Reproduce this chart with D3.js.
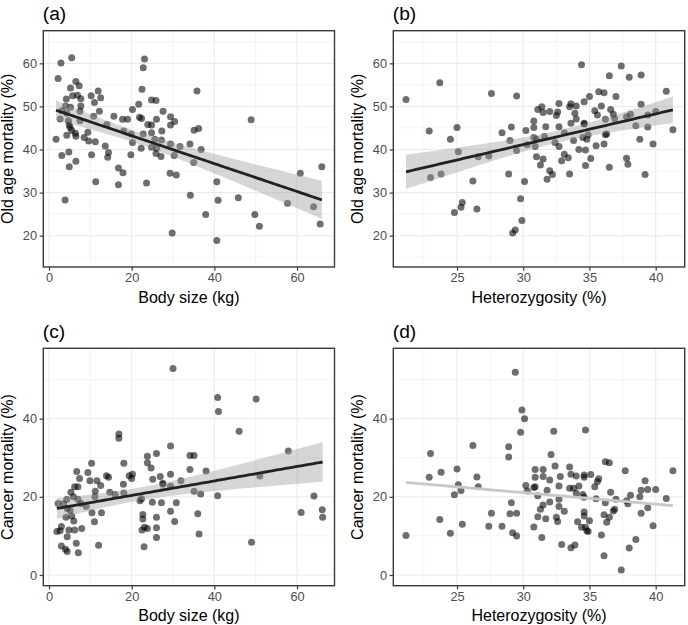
<!DOCTYPE html>
<html><head><meta charset="utf-8">
<script src="https://cdn.jsdelivr.net/npm/d3@7"></script>
<style>body{margin:0;background:#fff} svg{display:block} text{font-family:"Liberation Sans",Arial,Helvetica,sans-serif}</style>
</head><body><svg id="c" width="688" height="625"></svg>
<script>
// ---- data ----
const bodySizeA = [5.5,23.1,22.8,2.9,2.2,6.5,7.3,5.2,11.9,35.8,22.5,5.7,10.2,6.9,12.5,7.7,4.2,24.8,25.9,11.0,21.7,4.0,5.2,7.7,20.2,12.2,27.6,7.5,3.1,4.3,10.8,15.7,21.9,22.4,29.4,2.7,17.8,19.0,26.0,48.9,4.7,7.5,30.4,4.9,14.0,23.9,24.8,29.4,5.1,35.1,36.2,5.5,18.1,27.3,9.4,22.8,4.3,6.4,6.5,19.9,24.8,8.5,25.6,1.7,27.2,9.6,11.2,20.2,34.1,29.4,13.6,31.7,22.3,24.8,36.8,26.0,14.4,4.8,25.9,10.3,19.8,3.1,27.1,30.3,14.2,6.5,35.0,4.9,66.0,16.8,17.9,29.3,30.8,60.8,11.3,40.6,23.6,16.8,3.9,34.2,40.9,45.8,57.7,64.0,37.9,49.8,50.9,65.6,29.8,40.6];
const oldAgeA = [61.3,61.0,59.0,60.1,56.5,55.8,54.8,54.3,53.6,53.6,54.0,52.5,52.5,52.6,52.0,51.8,51.7,51.5,51.4,50.9,50.5,50.1,49.8,50.1,49.3,48.9,48.9,48.9,49.0,48.4,47.7,47.7,47.5,47.2,47.6,47.1,47.0,47.0,47.0,46.9,46.7,46.7,46.5,45.7,45.8,45.8,45.7,45.7,45.1,44.5,44.9,44.4,44.3,44.3,44.0,43.6,43.3,43.8,43.1,43.6,43.9,42.8,42.4,42.4,42.2,42.0,41.8,41.6,41.3,41.3,40.8,40.7,40.3,40.5,40.0,40.3,39.3,39.4,39.1,38.8,38.8,38.6,38.4,38.6,38.2,37.3,37.0,36.0,36.0,35.7,34.6,34.5,34.1,34.5,32.5,32.5,32.2,31.8,28.3,29.4,28.2,28.8,27.5,26.7,24.9,24.9,22.2,22.7,20.6,18.9];

const hetB = [21.15,23.7,22.9,23.0,23.8,24.5,25.0,25.1,24.8,25.3,25.4,26.2,26.5,26.6,27.4,27.6,28.4,28.9,29.0,29.1,29.5,29.5,29.2,29.4,29.8,29.9,30.1,30.2,30.3,30.8,30.8,30.8,30.9,31.0,31.0,31.1,31.3,31.4,31.5,31.5,31.6,31.7,31.8,32.0,32.0,32.2,32.4,32.5,32.6,32.7,32.7,32.7,32.9,33.1,33.1,33.4,33.5,33.6,33.6,33.5,33.8,33.9,34.0,34.0,34.2,34.4,34.5,34.6,34.6,34.6,34.7,34.7,34.8,34.9,35.0,35.1,35.4,35.5,35.6,35.7,35.9,36.1,36.1,36.2,36.3,36.2,36.5,36.5,36.6,36.8,36.9,37.0,37.4,37.8,37.8,37.9,38.0,38.1,38.5,38.8,38.9,38.9,39.2,39.4,39.4,39.8,40.0,40.8,41.3];
const oldAgeB = [51.6,55.5,44.3,33.5,34.3,42.4,45.1,39.5,25.4,26.6,27.7,32.7,26.2,38.3,38.5,53.0,43.9,34.3,42.1,45.2,52.4,39.8,20.6,21.3,28.6,23.5,32.6,44.4,41.1,46.6,45.1,42.8,40.7,42.4,38.3,49.3,36.4,49.9,48.6,37.8,43.0,45.3,33.1,48.8,35.1,34.2,41.6,47.9,48.7,50.7,45.3,40.7,37.4,43.9,38.9,38.1,49.9,50.6,46.1,34.3,42.1,48.4,50.1,47.1,40.0,59.7,42.8,51.1,46.1,45.9,39.9,36.3,42.4,43.4,52.3,37.9,49.0,40.9,48.0,53.4,50.1,53.2,41.3,47.0,43.6,43.4,57.1,35.9,49.3,48.2,47.2,52.3,59.4,47.6,38.0,36.6,56.8,48.2,45.5,42.4,50.5,57.3,34.2,48.0,45.2,41.3,48.8,53.5,44.6];

const bodySizeC = [30.0,40.8,41.0,50.1,46.0,16.9,16.9,29.4,57.9,23.8,34.1,35.1,26.0,10.3,18.1,23.8,6.7,38.0,34.1,24.7,9.4,29.4,13.9,14.4,20.2,19.4,20.0,26.9,51.0,9.9,11.6,25.1,31.9,7.4,6.2,7.0,27.5,27.6,29.4,18.0,35.1,11.2,14.7,16.0,18.1,5.3,36.7,40.8,11.1,12.5,5.9,22.4,22.0,64.1,4.3,7.0,25.0,27.2,30.8,2.2,3.5,7.7,9.0,4.4,5.1,66.1,29.4,61.0,36.0,10.4,12.7,4.1,5.5,26.0,66.2,22.7,22.7,6.0,11.0,30.4,1.9,3.0,4.8,6.2,7.9,23.1,23.8,22.5,26.0,36.3,4.4,26.0,3.0,6.6,12.0,23.0,49.0,4.0,4.4,7.1,2.7];
const cancerC = [52.8,45.4,41.8,45.0,36.8,36.1,35.0,33.0,31.7,30.4,30.6,30.6,31.1,28.6,28.6,28.7,26.5,26.6,27.0,27.4,26.2,25.8,25.4,25.0,25.8,25.4,24.7,25.2,25.3,24.1,24.1,24.5,24.1,24.7,22.6,22.6,23.5,23.2,22.7,23.2,21.4,21.4,21.2,20.6,21.0,21.2,20.7,20.3,20.0,22.9,20.0,19.5,19.0,20.2,19.3,19.4,18.6,18.5,18.5,18.3,18.2,18.3,17.5,17.0,16.5,16.7,16.3,16.0,15.7,15.9,15.9,14.8,15.1,14.8,14.8,15.5,14.3,13.8,13.6,13.7,11.1,12.4,11.5,11.5,11.9,12.2,11.9,11.5,12.1,10.5,9.8,9.6,7.4,8.1,7.6,7.2,8.4,6.6,6.0,5.7,11.3];

const hetD = [21.15,23.0,22.9,23.8,23.7,24.5,24.8,25.0,25.1,25.3,25.4,26.2,26.5,26.6,27.4,27.6,28.4,28.9,28.9,29.1,29.0,29.2,29.4,29.5,29.5,29.8,29.9,30.1,30.2,30.3,30.8,30.9,30.9,30.8,30.9,31.1,31.1,31.3,31.4,31.5,31.5,31.5,31.7,31.8,32.0,32.0,32.1,32.3,32.4,32.5,32.6,32.7,32.7,32.7,32.8,32.9,33.1,33.5,33.5,33.6,33.6,33.8,33.9,34.0,34.0,34.1,34.2,34.4,34.5,34.6,34.6,34.6,34.7,34.6,34.6,34.7,34.8,34.9,35.0,35.1,35.4,35.5,35.6,35.7,35.9,36.1,36.1,36.2,36.2,36.3,36.5,36.5,36.6,36.8,36.9,37.0,37.4,37.7,37.8,37.9,38.0,38.1,38.5,38.8,38.9,38.9,39.2,39.4,39.4,39.8,40.0,40.8,41.3];
const cancerD = [10.1,31.1,25.0,26.3,14.2,10.7,20.5,27.1,23.1,21.6,13.0,33.1,25.1,22.6,12.5,15.8,12.5,32.8,30.2,18.5,15.7,10.8,51.9,15.8,10.0,36.5,42.2,40.0,22.9,21.5,12.3,27.0,25.0,22.4,22.6,20.3,14.9,16.8,9.6,27.0,25.2,17.9,14.4,21.7,24.3,18.7,30.8,36.8,27.9,14.8,13.7,22.8,19.4,17.5,25.2,7.8,16.3,22.2,27.6,25.8,7.0,22.2,7.7,20.9,25.3,13.6,22.8,12.2,20.6,19.9,16.1,25.6,37.1,25.0,15.1,12.2,11.3,11.1,13.9,25.7,22.6,19.5,23.9,24.6,10.2,4.9,15.4,29.0,18.5,13.5,28.7,14.8,21.2,16.4,16.8,19.4,1.3,26.7,19.0,18.2,6.9,20.4,9.1,20.0,15.8,21.7,24.1,21.9,17.2,12.6,21.9,19.6,26.7];

const xTicksBody = [0,20,40,60], xMinorBody = [10,30,50];
const xTicksHet = [25,30,35,40], xMinorHet = [22.5,27.5,32.5,37.5];
const yTicksOld = [20,30,40,50,60], yMinorOld = [15,25,35,45,55,65];
const yTicksCancer = [0,20,40], yMinorCancer = [10,30,50];
const tags = ["(a)","(b)","(c)","(d)"];
const xTitles = ["Body size (kg)","Heterozygosity (%)","Body size (kg)","Heterozygosity (%)"];
const yTitles = ["Old age mortality (%)","Old age mortality (%)","Cancer mortality (%)","Cancer mortality (%)"];

// ---- layout ----
const panels = [
  {x:bodySizeA, y:oldAgeA, L:43.3, R:334.5, T:30.7, B:267, xd:[-1.38,69.07], yd:[12.73,67.58], xt:xTicksBody, xm:xMinorBody, yt:yTicksOld, ym:yMinorOld, band:true, lc:"#222"},
  {x:hetB, y:oldAgeB, L:393.3, R:684.7, T:30.7, B:267, xd:[20.19,42.19], yd:[12.73,67.58], xt:xTicksHet, xm:xMinorHet, yt:yTicksOld, ym:yMinorOld, band:true, lc:"#222"},
  {x:bodySizeC, y:cancerC, L:43.3, R:334.5, T:348.3, B:585.7, xd:[-1.38,69.07], yd:[-2.74,58.0], xt:xTicksBody, xm:xMinorBody, yt:yTicksCancer, ym:yMinorCancer, band:true, lc:"#222"},
  {x:hetD, y:cancerD, L:393.3, R:684.7, T:348.3, B:585.7, xd:[20.19,42.19], yd:[-2.74,58.0], xt:xTicksHet, xm:xMinorHet, yt:yTicksCancer, ym:yMinorCancer, band:false, lc:"#c8c8c8"}
];

function tq(df){ const z=1.959964; return z + (z**3+z)/(4*df) + (5*z**5+16*z**3+3*z)/(96*df*df); }
function fit(xs, ys){
  const n=xs.length, mx=d3.mean(xs), my=d3.mean(ys);
  let sxx=0, sxy=0; for(let i=0;i<n;i++){ sxx+=(xs[i]-mx)**2; sxy+=(xs[i]-mx)*(ys[i]-my); }
  const b=sxy/sxx, a=my-b*mx;
  let sse=0; for(let i=0;i<n;i++){ sse+=(ys[i]-a-b*xs[i])**2; }
  const s=Math.sqrt(sse/(n-2)), t=tq(n-2);
  const [x0,x1]=d3.extent(xs);
  return d3.range(80).map(k=>{ const x=x0+(x1-x0)*k/79, f=a+b*x, se=s*Math.sqrt(1/n+(x-mx)**2/sxx); return {x, f, lo:f-t*se, hi:f+t*se}; });
}

const svg = d3.select("#c");
panels.forEach((p, i) => {
  const xs = d3.scaleLinear().domain(p.xd).range([p.L, p.R]);
  const ys = d3.scaleLinear().domain(p.yd).range([p.B, p.T]);
  const g = svg.append("g");
  const cid = "clip"+i;
  svg.append("clipPath").attr("id",cid).append("rect").attr("x",p.L).attr("y",p.T).attr("width",p.R-p.L).attr("height",p.B-p.T);
  const inner = g.append("g").attr("clip-path",`url(#${cid})`);
  inner.selectAll(".mx").data(p.xm).join("line").attr("x1",d=>xs(d)).attr("x2",d=>xs(d)).attr("y1",p.T).attr("y2",p.B).attr("stroke","#ebebeb").attr("stroke-width",0.6);
  inner.selectAll(".my").data(p.ym).join("line").attr("y1",d=>ys(d)).attr("y2",d=>ys(d)).attr("x1",p.L).attr("x2",p.R).attr("stroke","#ebebeb").attr("stroke-width",0.6);
  inner.selectAll(".Mx").data(p.xt).join("line").attr("x1",d=>xs(d)).attr("x2",d=>xs(d)).attr("y1",p.T).attr("y2",p.B).attr("stroke","#ebebeb").attr("stroke-width",1.1);
  inner.selectAll(".My").data(p.yt).join("line").attr("y1",d=>ys(d)).attr("y2",d=>ys(d)).attr("x1",p.L).attr("x2",p.R).attr("stroke","#ebebeb").attr("stroke-width",1.1);
  const pts = p.x.map((v,k)=>[v,p.y[k]]);
  inner.selectAll("circle").data(pts).join("circle").attr("cx",d=>xs(d[0])).attr("cy",d=>ys(d[1])).attr("r",3.5).attr("fill","#000").attr("fill-opacity",0.57);
  const f = fit(p.x, p.y);
  if (p.band) {
    inner.append("path").datum(f).attr("d", d3.area().x(d=>xs(d.x)).y0(d=>ys(d.lo)).y1(d=>ys(d.hi))).attr("fill","#999").attr("fill-opacity",0.4);
  }
  inner.append("path").datum(f).attr("d", d3.line().x(d=>xs(d.x)).y(d=>ys(d.f))).attr("fill","none").attr("stroke",p.lc).attr("stroke-width",2.8);
  g.append("rect").attr("x",p.L).attr("y",p.T).attr("width",p.R-p.L).attr("height",p.B-p.T).attr("fill","none").attr("stroke","#3a3a3a").attr("stroke-width",1.4);
  const ax = g.append("g").attr("transform",`translate(0,${p.B})`).call(d3.axisBottom(xs).tickValues(p.xt).tickSize(3.7).tickPadding(2.6).tickFormat(d3.format("d")));
  const ay = g.append("g").attr("transform",`translate(${p.L},0)`).call(d3.axisLeft(ys).tickValues(p.yt).tickSize(3.7).tickPadding(2.6).tickFormat(d3.format("d")));
  [ax,ay].forEach(a=>{ a.select(".domain").remove(); a.selectAll("line").attr("stroke","#3a3a3a").attr("stroke-width",1.2); a.selectAll("text").attr("fill","#4d4d4d").style("font-size","12.8px").style("font-family","'Liberation Sans',Arial,sans-serif"); });
  g.append("text").attr("x",(p.L+p.R)/2).attr("y",p.B+35.5).attr("text-anchor","middle").style("font-size","16px").attr("fill","#000").text(xTitles[i]);
  g.append("text").attr("transform",`translate(${p.L-30.3},${(p.T+p.B)/2}) rotate(-90)`).attr("text-anchor","middle").style("font-size","16px").attr("fill","#000").text(yTitles[i]);
  g.append("text").attr("x",p.L-0.5).attr("y",p.T-10.7).style("font-size","19.2px").attr("fill","#000").text(tags[i]);
});
</script></body></html>
